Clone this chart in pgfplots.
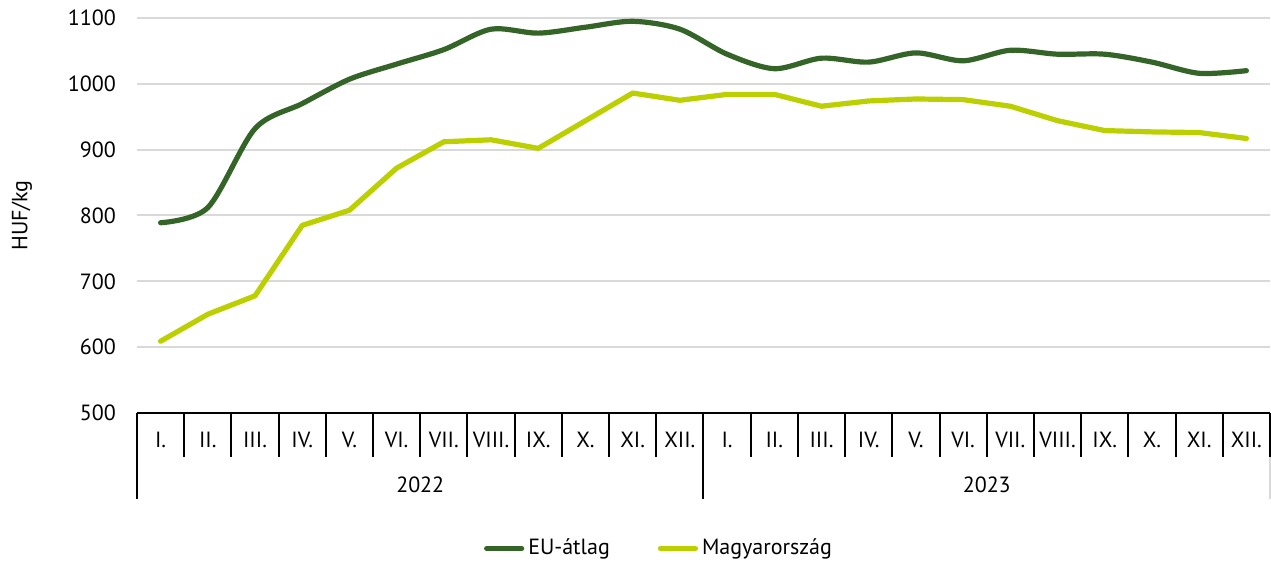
\documentclass[border=0pt]{standalone}
\usepackage{fontspec}
\setmainfont{PT Sans}
\usepackage{pgfplots}
\pgfplotsset{compat=1.18}
\definecolor{eugreen}{RGB}{53,100,41}
\definecolor{hulime}{RGB}{188,207,0}
\definecolor{gridgray}{RGB}{217,217,217}
\begin{document}
\begin{tikzpicture}[font=\fontsize{11}{13}\selectfont]
\begin{axis}[
  name=ax,
  scale only axis, width=566.5pt, height=197.5pt,
  xmin=-0.5, xmax=23.5, ymin=500, ymax=1100,
  ytick={500,600,...,1100},
  xtick={0,...,23},
  xticklabels={I.,II.,III.,IV.,V.,VI.,VII.,VIII.,IX.,X.,XI.,XII.,I.,II.,III.,IV.,V.,VI.,VII.,VIII.,IX.,X.,XI.,XII.},
  minor xtick={-0.5,0.5,...,23.5},
  xtick pos=lower, ytick pos=left,
  tick align=outside,
  major tick length=0pt,
  minor tick length=22pt,
  tick style={line width=1pt, black},
  axis line style={draw=none},
  ymajorgrids, grid style={gridgray, line width=1pt},
  /pgf/number format/assume math mode=true,
  /pgf/number format/1000 sep={},
  tick label style={font=\fontsize{11}{13}\selectfont},
  yticklabel style={anchor=east, xshift=-7pt},
  xticklabel style={anchor=base, yshift=-17.5pt},
  ylabel={HUF/kg},
  ylabel style={at={([xshift=-57.5pt]axis description cs:0,0.5)}, anchor=center, font=\fontsize{11}{13}\selectfont},
  legend style={draw=none, legend columns=2, at={(0.4616,0)}, anchor=center, yshift=-67.75pt,
    font=\fontsize{11}{13}\selectfont,
    /tikz/every even column/.append style={column sep=22pt}},
  legend cell align=left,
  legend image code/.code={\draw[#1, line cap=round] (0pt,0pt) -- (17.5pt,0pt);},
  clip=false,
]
\addplot[eugreen, line width=2.6pt, smooth, line cap=round] coordinates {
(0,789) (1,812) (2,932) (3,970) (4,1007) (5,1030) (6,1052) (7,1083) (8,1077) (9,1086) (10,1095) (11,1083)
(12,1045) (13,1023) (14,1039) (15,1033) (16,1047) (17,1035) (18,1051) (19,1045) (20,1045) (21,1033) (22,1016) (23,1020)};
\addlegendentry{EU-átlag}
\addplot[hulime, line width=2.6pt, sharp plot, line cap=round, line join=round] coordinates {
(0,609) (1,650) (2,678) (3,785) (4,808) (5,872) (6,912) (7,915) (8,902) (9,944) (10,986) (11,975)
(12,984) (13,984) (14,966) (15,974) (16,977) (17,976) (18,966) (19,944) (20,929) (21,927) (22,926) (23,917)};
\addlegendentry{Magyarország}
\draw[black, line width=1.3pt] (axis cs:-0.5,500) -- (axis cs:23.5,500);
\draw[black, line width=1pt] (axis cs:-0.5,500) -- ([yshift=-43pt]axis cs:-0.5,500);
\draw[black, line width=1pt] (axis cs:11.5,500) -- ([yshift=-43pt]axis cs:11.5,500);
\draw[gridgray, line width=1pt] ([yshift=-22pt]axis cs:23.5,500) -- ([yshift=-43pt]axis cs:23.5,500);
\node[anchor=base] at ([yshift=-40pt]axis cs:5.5,500) {2022};
\node[anchor=base] at ([yshift=-40pt]axis cs:17.5,500) {2023};
\end{axis}
\pgfresetboundingbox
\path[use as bounding box] (ax.south west) ++(-68.5pt,-74.5pt) rectangle ++(635.5pt,281pt);
\end{tikzpicture}
\end{document}
